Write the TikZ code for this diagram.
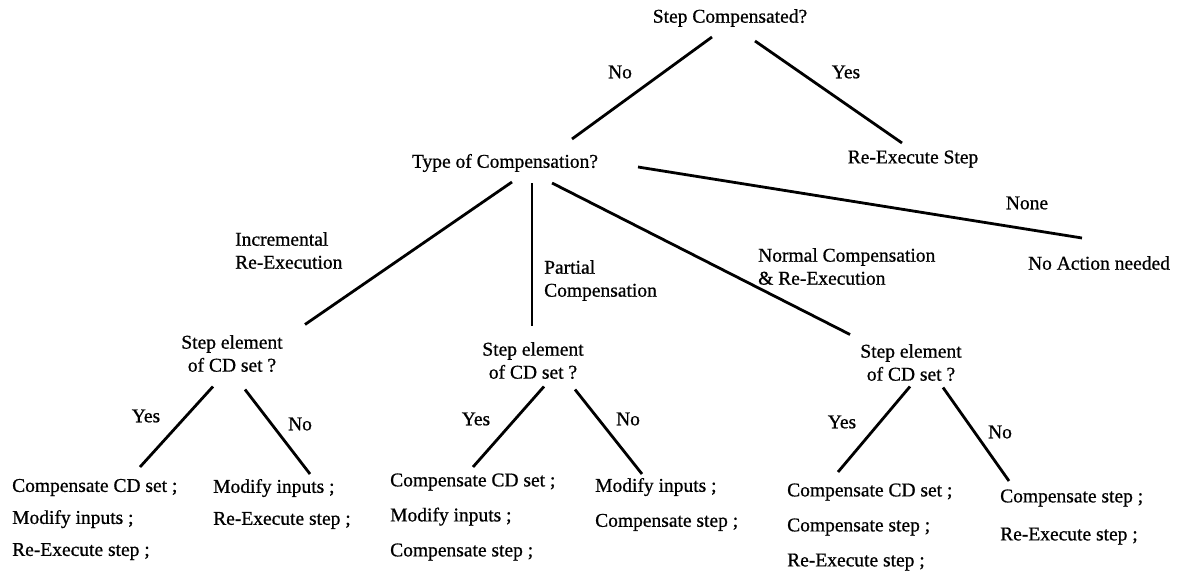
\documentclass[tikz,border=0pt]{standalone}
\usepackage{fontspec}
\setmainfont{Liberation Serif}[FakeBold=0.8]
\usepackage{tikz}

\tikzset{
  txt/.style={inner sep=0pt, align=center},
  lbl/.style={inner sep=0pt, align=left, anchor=west},
  leaf/.style={inner sep=0pt, align=left, anchor=west, font=\fontsize{19.5}{#1}\selectfont},
  leaf/.default=32,
  branch/.style={line width=2.8pt}
}

\begin{document}
\begin{tikzpicture}[x=1pt, y=-1pt, font=\fontsize{19.5}{23}\selectfont]
    \useasboundingbox (0,0) rectangle (1177,578);

    \node[txt] (root) at (730,18) {Step Compensated?};
    \node[txt] (no0) at (620,72) {No};
    \node[txt] (yes0) at (846,72) {Yes};
    \node[txt] (type) at (505,163) {Type of Compensation?};
    \node[txt] (reexec) at (913,159) {Re-Execute Step};
    \node[txt] (none) at (1027,203) {None};
    \node[txt] (noact) at (1099,263) {No Action needed};

    \node[lbl] (incr) at (235,250.5) {Incremental\\Re-Execution};
    \node[lbl] (part) at (544,280.5) {Partial\\Compensation};
    \node[lbl] (norm) at (758,266.5) {Normal Compensation\\\& Re-Execution};

    \node[txt] (sub1) at (232,353.5) {Step element\\of CD set ?};
    \node[txt] (sub2) at (533,360.5) {Step element\\of CD set ?};
    \node[txt] (sub3) at (911,362.5) {Step element\\of CD set ?};

    \node[txt] (yes1) at (146,416) {Yes};
    \node[txt] (no1) at (300,424) {No};
    \node[txt] (yes2) at (476,419) {Yes};
    \node[txt] (no2) at (628,419) {No};
    \node[txt] (yes3) at (842,422) {Yes};
    \node[txt] (no3) at (1000,432) {No};

    \node[leaf] (leaf1) at (12,519.5) {Compensate CD set ;\\Modify inputs ;\\Re-Execute step ;};
    \node[leaf] (leaf2) at (213,504) {Modify inputs ;\\Re-Execute step ;};
    \node[leaf=35] (leaf3) at (390,517) {Compensate CD set ;\\Modify inputs ;\\Compensate step ;};
    \node[leaf=35] (leaf4) at (595,504.5) {Modify inputs ;\\Compensate step ;};
    \node[leaf=35] (leaf5) at (787,527) {Compensate CD set ;\\Compensate step ;\\Re-Execute step ;};
    \node[leaf=38] (leaf6) at (1000,517) {Compensate step ;\\Re-Execute step ;};

    \draw[branch] ([shift={(-18,19)}]root.center) -- ([shift={(67,-24)}]type.center);
    \draw[branch] ([shift={(25,23)}]root.center) -- ([shift={(-11,-16)}]reexec.center);

    \draw[branch] ([shift={(7,19)}]type.center) -- ([shift={(73,-29)}]sub1.center);
    \draw[branch] ([shift={(27,20)}]type.center) -- ([shift={(-1,-35)}]sub2.center);
    \draw[branch] ([shift={(47,20)}]type.center) -- ([shift={(-61,-28)}]sub3.center);
    \draw[branch] ([shift={(133,4)}]type.center) -- ([shift={(-17,-25)}]noact.center);

    \draw[branch] ([shift={(-19,33)}]sub1.center) -- ([shift={(128,-52.5)}]leaf1.west);
    \draw[branch] ([shift={(13,36)}]sub1.center) -- ([shift={(97,-30)}]leaf2.west);
    \draw[branch] ([shift={(11,26)}]sub2.center) -- ([shift={(83,-50)}]leaf3.west);
    \draw[branch] ([shift={(42,29)}]sub2.center) -- ([shift={(47,-30.5)}]leaf4.west);
    \draw[branch] ([shift={(-1,24)}]sub3.center) -- ([shift={(51,-55)}]leaf5.west);
    \draw[branch] ([shift={(32,25)}]sub3.center) -- ([shift={(9,-36)}]leaf6.west);
\end{tikzpicture}
\end{document}
